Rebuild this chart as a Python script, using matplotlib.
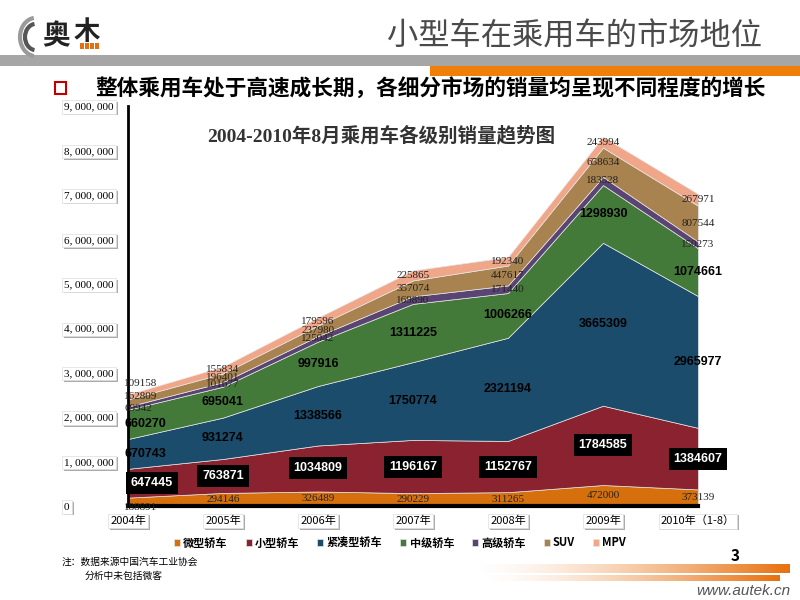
import matplotlib
matplotlib.use("Agg")
import matplotlib.pyplot as plt
import matplotlib.patheffects as pe
from matplotlib.patches import Rectangle, Arc
import numpy as np

plt.rcParams['font.family'] = ['Noto Sans CJK SC', 'DejaVu Sans']

# datos del gráfico
years = ['2004年', '2005年', '2006年', '2007年', '2008年', '2009年', '2010年（1-8）']
series_names = ['微型轿车', '小型轿车', '紧凑型轿车', '中级轿车', '高级轿车', 'SUV', 'MPV']
micro = [188891, 294146, 326489, 290229, 311265, 472000, 373139]
small = [647445, 763871, 1034809, 1196167, 1152767, 1784585, 1384607]
compact = [670743, 931274, 1338566, 1750774, 2321194, 3665309, 2965977]
middle = [660270, 695041, 997916, 1311225, 1006266, 1298930, 1074661]
luxury = [69942, 101677, 125042, 169890, 171440, 183528, 150273]
suv = [162809, 196401, 237980, 357074, 447617, 658634, 807544]
mpv = [109158, 155834, 179596, 225865, 192340, 243994, 267971]
yticks = [0, 1000000, 2000000, 3000000, 4000000, 5000000, 6000000, 7000000, 8000000, 9000000]

colors = ['#D5700C', '#8A2230', '#1B4C6B', '#437A3A', '#5A4473', '#A8834F', '#F0A688']
series = [micro, small, compact, middle, luxury, suv, mpv]
# desplazamiento vertical (puntos) de las etiquetas de 2004 para que no se pisen
first_shift = [-4, 0, 0, 0, 0, 5, 10]

fig = plt.figure(figsize=(8, 6), dpi=100)

# cabecera
fig.text(0.953, 1 - 37 / 600, '小型车在乘用车的市场地位', fontsize=22.5, color='#4a4a4a',
         ha='right', va='center')
fig.add_artist(Rectangle((0, 1 - 66 / 600), 1, 11 / 600, transform=fig.transFigure,
                         color='#a6a6a6', lw=0))
fig.add_artist(Rectangle((430 / 800, 1 - 76 / 600), 370 / 800, 10 / 600,
                         transform=fig.transFigure, color='#F07F0A', lw=0))

# logo
for r, c in [(16, '#9a9a9a'), (11, '#555555')]:
    fig.add_artist(Arc((36 / 800, 1 - 37 / 600), 2 * r / 800, 2.4 * r / 600, theta1=95, theta2=265,
                       transform=fig.transFigure, color=c, lw=3))
fig.text(42 / 800, 1 - 36 / 600, '奥', fontsize=20, fontweight='bold', color='#222222',
         ha='left', va='center')
fig.text(74 / 800, 1 - 33 / 600, '木', fontsize=19, fontweight='bold', color='#222222',
         ha='left', va='center')
for k in range(4):
    fig.add_artist(Rectangle(((80 + k * 5) / 800, 1 - 49 / 600), 3.5 / 800, 6 / 600,
                             transform=fig.transFigure, color='#E07010', lw=0))

# viñeta
fig.add_artist(Rectangle((55 / 800, 1 - 94 / 600), 11 / 800, 12 / 600, transform=fig.transFigure,
                         fill=False, ec='#C00000', lw=1.5))
fig.text(95 / 800, 1 - 88 / 600, '整体乘用车处于高速成长期，各细分市场的销量均呈现不同程度的增长',
         fontsize=15.6, fontweight='bold', color='black', ha='left', va='center')

ax = fig.add_axes([128 / 800, 94 / 600, 570 / 800, 400 / 600])
x = np.arange(len(years))
ax.stackplot(x, *series, colors=colors, labels=series_names, edgecolor='#e6e6e6', linewidth=0.5)
ax.set_xlim(0, len(years) - 1)
ax.set_ylim(0, 9000000)
ax.set_facecolor('none')

for s in ['top', 'right']:
    ax.spines[s].set_visible(False)
ax.spines['left'].set_linewidth(2)
ax.spines['bottom'].set_linewidth(3)

shadow = [pe.withSimplePatchShadow(offset=(1.2, -1.2), shadow_rgbFace='#888888', alpha=0.7)]
ax.set_yticks(yticks)
ax.set_yticklabels([f'{v:,}'.replace(',', ', ') for v in yticks],
                   fontfamily=['Liberation Serif', 'Noto Sans CJK SC'], fontsize=8)
ax.tick_params(axis='y', length=0, pad=46)
for lbl in ax.get_yticklabels():
    lbl.set_horizontalalignment('left')
    lbl.set_bbox(dict(boxstyle='square,pad=0.2', fc='white', ec='#dddddd', lw=0.5))
    lbl.get_bbox_patch().set_path_effects(shadow)

ax.set_xticks(x)
ax.set_xticklabels(years, fontsize=8, family=['Noto Sans CJK SC', 'DejaVu Sans'])
ax.tick_params(axis='x', length=0, pad=7)
for lbl in ax.get_xticklabels():
    lbl.set_bbox(dict(boxstyle='square,pad=0.2', fc='white', ec='#dddddd', lw=0.5))
    lbl.get_bbox_patch().set_path_effects(shadow)

ax.text(0.445, 0.925, '2004-2010年8月乘用车各级别销量趋势图', transform=ax.transAxes,
        fontsize=14, color='#333333', ha='center', va='center',
        family=['Liberation Serif', 'Noto Sans CJK SC'], fontweight='bold')

# etiquetas de datos
base = np.zeros(len(years))
for k, vals in enumerate(series):
    vals = np.array(vals)
    mid = base + vals / 2
    for i in range(len(years)):
        xi = i if i > 0 else -0.04
        ha = 'center' if i > 0 else 'left'
        dy = first_shift[k] if i == 0 else 0
        txt = str(vals[i])
        if k == 1:
            if i == 0:
                xi = 0.03
            ax.annotate(txt, (xi, mid[i]), xytext=(0, dy), textcoords='offset points',
                        ha=ha, va='center', fontsize=9, fontweight='bold',
                        color='white', family='Liberation Sans', annotation_clip=False,
                        bbox=dict(boxstyle='square,pad=0.4', fc='black', ec='none'))
        elif k in (2, 3):
            ax.annotate(txt, (xi, mid[i]), xytext=(0, dy), textcoords='offset points',
                        ha=ha, va='center', fontsize=9, fontweight='bold',
                        color='black', family='Liberation Sans', annotation_clip=False)
        else:
            ax.annotate(txt, (xi, mid[i]), xytext=(0, dy), textcoords='offset points',
                        ha=ha, va='center', fontsize=8, annotation_clip=False,
                        color='#222222', family='Liberation Serif')
    base = base + vals

leg = ax.legend(loc='center', bbox_to_anchor=(400 / 800, 1 - 543 / 600),
                bbox_transform=fig.transFigure, ncol=7, frameon=False,
                handlelength=0.55, handleheight=0.55, handletextpad=0.3, columnspacing=1.6,
                prop={'weight': 'bold', 'size': 8})

# notas al pie
fig.text(62 / 800, 1 - 562 / 600, '注：数据来源中国汽车工业协会', fontsize=7, ha='left', va='center')
fig.text(85 / 800, 1 - 576 / 600, '分析中未包括微客', fontsize=7, ha='left', va='center')
fig.text(735 / 800, 1 - 556 / 600, '3', fontsize=11, fontweight='bold', ha='center', va='center')

grad = np.linspace(0, 1, 256).reshape(1, -1) ** 1.5
cmap = matplotlib.colors.LinearSegmentedColormap.from_list('g', ['#ffffff', '#E8700F'])
gax1 = fig.add_axes([470 / 800, 1 - 573 / 600, 320 / 800, 9 / 600])
gax1.imshow(grad, aspect='auto', cmap=cmap)
gax1.axis('off')
gax2 = fig.add_axes([480 / 800, 1 - 581 / 600, 300 / 800, 6 / 600])
gax2.imshow(grad, aspect='auto', cmap=cmap)
gax2.axis('off')
fig.text(790 / 800, 1 - 591 / 600, 'www.autek.cn', fontsize=11, style='italic', color='#555555',
         ha='right', va='center', family='Liberation Sans')

fig.savefig('out.png', dpi=100)
